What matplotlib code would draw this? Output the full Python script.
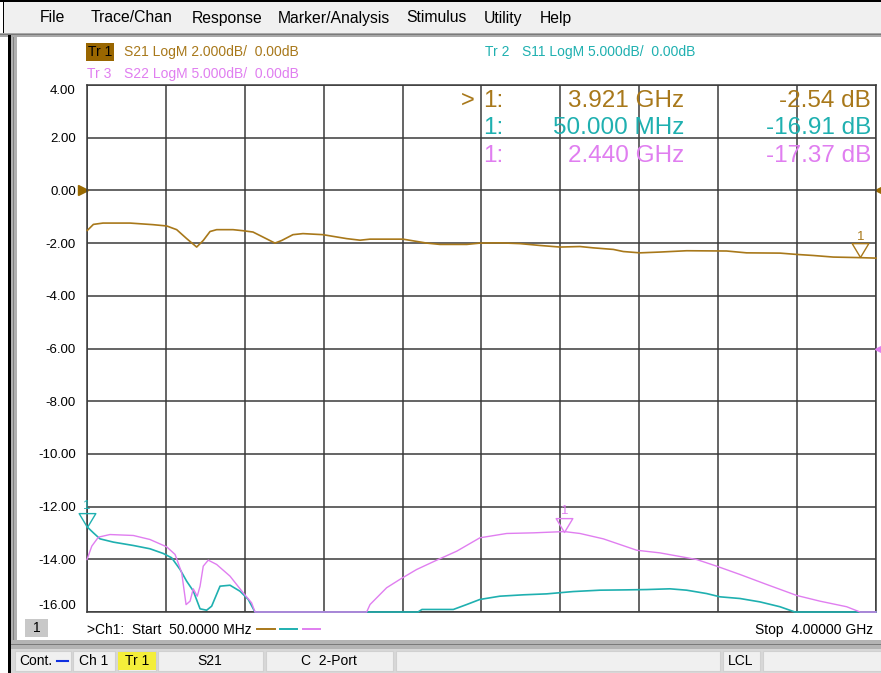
import numpy as np
import matplotlib
matplotlib.use("Agg")
import matplotlib.pyplot as plt
from matplotlib.patches import Rectangle
from matplotlib.lines import Line2D
from matplotlib.path import Path

plt.rcParams['font.family'] = ['Liberation Sans', 'DejaVu Sans']

# --- data (GHz, dB) ---
f_s21 = [0.0515, 0.082, 0.130, 0.265, 0.380, 0.449, 0.499, 0.549, 0.599, 0.632,
         0.666, 0.699, 0.781, 0.831, 0.881, 0.931, 0.991, 1.025, 1.081, 1.131,
         1.231, 1.350, 1.417, 1.467, 1.632, 1.751, 1.817, 1.951, 2.017, 2.117,
         2.218, 2.318, 2.418, 2.518, 2.584, 2.685, 2.735, 2.818, 2.918, 3.052,
         3.252, 3.352, 3.519, 3.603, 3.686, 3.786, 3.911, 4.000]
s21 = [-1.52, -1.29, -1.24, -1.24, -1.30, -1.35, -1.49, -1.83, -2.15, -1.90,
       -1.56, -1.49, -1.49, -1.53, -1.58, -1.77, -2.00, -1.90, -1.68, -1.64,
       -1.68, -1.83, -1.89, -1.85, -1.85, -2.00, -2.05, -2.05, -2.00, -1.99,
       -2.02, -2.09, -2.15, -2.13, -2.18, -2.24, -2.32, -2.37, -2.34, -2.29,
       -2.30, -2.37, -2.38, -2.43, -2.47, -2.53, -2.55, -2.57]

f_s11 = [0.050, 0.082, 0.115, 0.182, 0.282, 0.365, 0.432, 0.474, 0.516, 0.549,
         0.582, 0.616, 0.649, 0.674, 0.716, 0.766, 0.816, 0.857, 0.891, 1.707,
         1.727, 1.884, 1.951, 2.017, 2.117, 2.234, 2.351, 2.484, 2.618, 2.752,
         2.852, 2.968, 3.052, 3.152, 3.219, 3.319, 3.419, 3.519, 3.594, 4.000]
s11 = [-16.91, -17.49, -18.06, -18.37, -18.69, -19.00, -19.45, -19.86, -20.97, -22.08,
       -23.00, -24.70, -24.83, -24.45, -22.55, -22.46, -23.03, -23.80, -25.0, -25.0,
       -24.76, -24.76, -24.29, -23.81, -23.50, -23.37, -23.28, -23.06, -22.93, -22.90,
       -22.87, -22.80, -22.93, -23.25, -23.56, -23.72, -24.04, -24.50, -25.0, -25.0]

f_s22 = [0.050, 0.074, 0.107, 0.165, 0.282, 0.365, 0.449, 0.491, 0.524, 0.546,
         0.566, 0.582, 0.602, 0.616, 0.632, 0.657, 0.699, 0.766, 0.832, 0.874,
         0.891, 1.450, 1.467, 1.550, 1.617, 1.700, 1.801, 1.901, 2.017, 2.151,
         2.284, 2.440, 2.518, 2.635, 2.802, 2.918, 3.102, 3.202, 3.319, 3.453,
         3.603, 3.719, 3.853, 3.920, 4.000]
s22 = [-20.02, -18.75, -17.90, -17.65, -17.74, -18.12, -18.82, -19.54, -21.28, -24.30,
       -23.97, -22.80, -23.50, -22.55, -20.65, -20.08, -20.49, -21.60, -23.18, -24.13,
       -25.0, -25.0, -24.29, -22.70, -21.90, -20.97, -20.08, -19.23, -17.96, -17.55,
       -17.49, -17.37, -17.55, -18.06, -19.14, -19.39, -20.02, -20.65, -21.44, -22.39,
       -23.43, -23.97, -24.50, -25.0, -25.0]

# markers: (freq GHz, dB)
mk_freq = [3.921, 0.050, 2.440]
mk_val = [-2.54, -16.91, -17.37]

c21, c11, c22 = '#a8781a', '#1fb0b0', '#e07ef0'

W, H = 881, 673
fig = plt.figure(figsize=(W / 100, H / 100), dpi=100)


def fx(x):
    return x / W


def fy(y):
    return 1 - y / H


def box(x0, y0, x1, y1, color, ec='none', z=0):
    fig.add_artist(Rectangle((fx(x0), fy(y1)), (x1 - x0) / W, (y1 - y0) / H,
                             transform=fig.transFigure, facecolor=color,
                             edgecolor=ec, lw=0.8, zorder=z))


def txt(x, y, s, **kw):
    kw.setdefault('va', 'center')
    fig.text(fx(x), fy(y), s, **kw)


# window chrome
box(0, 0, W, 2, 'black')
box(3, 2, W, 33, '#f0f0f0')
box(3, 0, 4, 35, 'black')
box(0, 33, W, 37, '#a8a8a8')
box(0, 34, W, 35, '#7a7a7a')
box(8, 35, 11, H, 'black')
box(11, 37, 17, 649, '#b0b0b0')
box(13, 37, 14, 645, '#808080')
box(11, 640, W, 649, '#b4b4b4')
box(11, 644, W, 645, '#7a7a7a')
box(11, 649, W, H, '#d8d8d8')

for name, x in [('File', 40), ('Trace/Chan', 91), ('Response', 192), ('Marker/Analysis', 278),
                ('Stimulus', 406), ('Utility', 484), ('Help', 540)]:
    txt(x, 18, name, fontsize=11.3, color='black')

# status bar
segs = [(15, 71), (73, 115), (118, 156), (158, 263), (266, 393), (396, 720), (723, 760), (763, W)]
for x0, x1 in segs:
    box(x0, 651, x1, 671, '#f0f0f0', ec='#d0d0d0')
box(118, 652, 156, 670, '#f4ee3a')
txt(19, 661, 'Cont.', fontsize=10)
fig.add_artist(Line2D([fx(57), fx(68)], [fy(661), fy(661)], color='#1030e0', lw=1.5))
txt(94, 661, 'Ch 1', fontsize=10, ha='center')
txt(137, 661, 'Tr 1', fontsize=10, ha='center')
txt(210, 661, 'S21', fontsize=10, ha='center')
txt(329, 661, 'C  2-Port', fontsize=10, ha='center')
txt(741, 661, 'LCL', fontsize=10, ha='center')

# trace header lines
txt(88, 52, 'Tr 1', fontsize=10, color='black',
    bbox=dict(facecolor='#996600', edgecolor='none', pad=1.2))
txt(124, 52, 'S21 LogM 2.000dB/  0.00dB', fontsize=10, color=c21)
txt(87, 74, 'Tr 3', fontsize=10, color=c22)
txt(124, 74, 'S22 LogM 5.000dB/  0.00dB', fontsize=10, color=c22)
txt(485, 52, 'Tr 2', fontsize=10, color=c11)
txt(522, 52, 'S11 LogM 5.000dB/  0.00dB', fontsize=10, color=c11)

# main graticule (S21 scale)
ax = fig.add_axes([fx(87), fy(612), 789 / W, 527 / H])
ax.set_xlim(0.05, 4.0)
ax.set_ylim(-16, 4)
ax.set_xticks(np.linspace(0.05, 4.0, 11))
ax.set_xticklabels([])
yt = np.arange(-16, 5, 2)
ax.set_yticks(yt)
ax.set_yticklabels(['%.2f' % v for v in yt])
ax.tick_params(axis='x', length=0)
ax.tick_params(axis='y', length=0, pad=8, labelsize=9.5)
ax.grid(True, color='#3a3a3a', lw=1.1)
for sp in ax.spines.values():
    sp.set_color('#3a3a3a')
    sp.set_linewidth(1.1)
labs = ax.get_yticklabels()
labs[0].set_verticalalignment('bottom')
labs[-1].set_verticalalignment('top')

# S11 / S22 use 5 dB/div with reference three divisions lower
ax2 = ax.twinx()
ax2.set_ylim(-25, 25)
ax2.set_yticks([])
for sp in ax2.spines.values():
    sp.set_visible(False)

ax.plot(f_s21, s21, color=c21, lw=1.2, clip_on=False, zorder=3)
ax2.plot(f_s11, s11, color=c11, lw=1.2, clip_on=False, zorder=3)
ax2.plot(f_s22, s22, color=c22, lw=1.0, clip_on=False, zorder=3)

# reference position arrows
ax.plot([0.028], [0], marker='>', color='#9a6a00', ms=7, clip_on=False)
ax.plot([4.022], [0], marker='<', color='#9a6a00', ms=7, clip_on=False)
ax2.plot([4.022], [0], marker='<', color=c22, ms=7, clip_on=False)

# marker triangles, tip on the trace
tri = Path([(-0.6, 1.0), (0.6, 1.0), (0.0, 0.0), (-0.6, 1.0)],
           [Path.MOVETO, Path.LINETO, Path.LINETO, Path.CLOSEPOLY])
for a, fq, v, c in [(ax, mk_freq[0], mk_val[0], c21), (ax2, mk_freq[1], mk_val[1], c11),
                    (ax2, mk_freq[2], mk_val[2], c22)]:
    a.plot([fq], [v], marker=tri, ms=20, mfc='none', mec=c, mew=1.0, clip_on=False, zorder=4)
    a.annotate('1', xy=(fq, v), xytext=(0, 10.5), textcoords='offset points',
               ha='center', va='bottom', fontsize=9.5, color=c, annotation_clip=False)

# marker readout
rows = [(101, c21), (128, c11), (156, c22)]
txt(461, 101, '>', fontsize=17, color=c21)
for i, (y, c) in enumerate(rows):
    fq = mk_freq[i]
    fs = '%.3f GHz' % fq if fq >= 1 else '%.3f MHz' % (fq * 1000)
    txt(483, y, '1:', fontsize=17.5, color=c)
    txt(684, y, fs, fontsize=17.5, color=c, ha='right')
    txt(871, y, '%.2f dB' % mk_val[i], fontsize=17.5, color=c, ha='right')

# channel footer
box(25, 619, 48, 637, '#c8c8c8')
txt(36.5, 628, '1', fontsize=10, ha='center')
txt(87, 630, '>Ch1:  Start  50.0000 MHz', fontsize=10)
for (x0, x1), c in zip([(257, 275), (280, 297), (303, 320)], [c21, c11, c22]):
    fig.add_artist(Line2D([fx(x0), fx(x1)], [fy(629), fy(629)], color=c, lw=1.4))
txt(873, 630, 'Stop  4.00000 GHz', fontsize=10, ha='right')

fig.savefig('out.png', dpi=100)
